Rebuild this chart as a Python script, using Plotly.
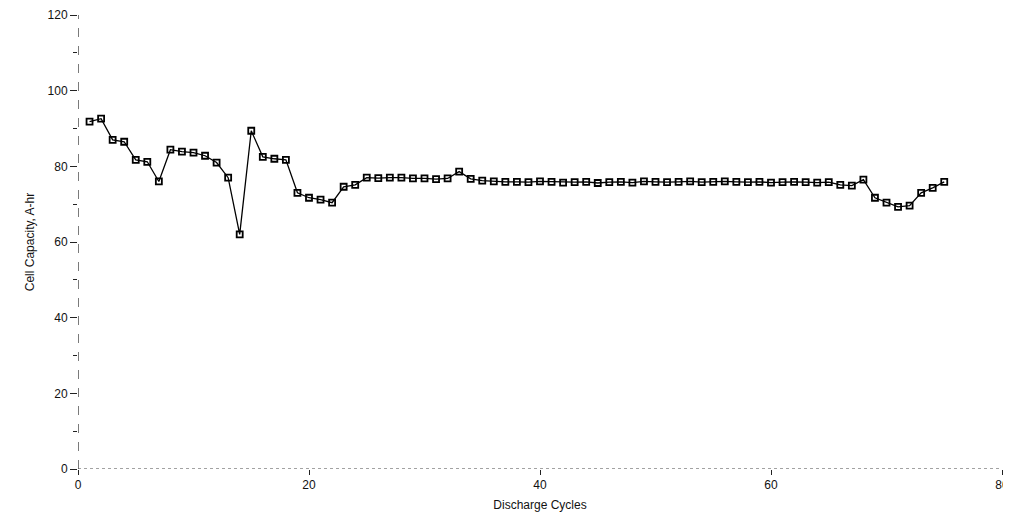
import plotly.graph_objects as go

cycles = list(range(1, 76))
capacity = [
    91.8, 92.6, 87.0, 86.5, 81.7, 81.2, 76.0, 84.4, 83.9, 83.6,
    82.8, 81.0, 77.0, 62.0, 89.4, 82.5, 82.0, 81.7, 73.0, 71.7,
    71.2, 70.4, 74.6, 75.1, 77.0, 76.9, 77.0, 77.0, 76.8, 76.8,
    76.6, 76.8, 78.6, 76.7, 76.2, 76.0, 75.9, 75.9, 75.8, 76.0,
    75.9, 75.7, 75.8, 75.9, 75.6, 75.8, 75.9, 75.7, 76.0, 75.9,
    75.8, 75.9, 76.0, 75.8, 75.9, 76.0, 75.9, 75.8, 75.9, 75.7,
    75.8, 75.9, 75.8, 75.7, 75.8, 75.1, 74.9, 76.5, 71.7, 70.4,
    69.3, 69.6, 73.0, 74.3, 75.9,
]
x_ticks = [0, 20, 40, 60, 80]
y_ticks = [0, 20, 40, 60, 80, 100, 120]

fig = go.Figure()
fig.add_trace(go.Scatter(
    x=cycles, y=capacity, mode="lines+markers",
    line=dict(color="black", width=1.3),
    marker=dict(symbol="square-open", size=6, color="black", line=dict(width=1.8)),
    showlegend=False, cliponaxis=False,
))

font = dict(family="Liberation Sans, Arial, sans-serif", size=12, color="#111")

fig.update_layout(
    width=1003, height=504,
    margin=dict(l=70, r=9, t=7, b=43),
    paper_bgcolor="white", plot_bgcolor="white",
    font=font,
    xaxis=dict(
        range=[0, 80], tickvals=x_ticks, showgrid=False, zeroline=False,
        showline=False, ticks="outside", ticklen=5, tickcolor="#222",
        title=dict(text="Discharge Cycles", font=font, standoff=12),
        automargin=False, fixedrange=True,
    ),
    yaxis=dict(
        range=[0, 120], tickvals=y_ticks, showgrid=False, zeroline=False,
        showline=False, ticks="outside", ticklen=7, tickcolor="#222",
        minor=dict(dtick=10, ticks="outside", ticklen=4, tickcolor="#222"),
        title=dict(text="Cell Capacity, A-hr", font=font, standoff=10),
        automargin=False, fixedrange=True,
    ),
)

# dashed axis lines (scanned look)
fig.add_shape(type="line", xref="x", yref="paper", x0=0, x1=0, y0=0, y1=1,
              line=dict(color="#222", width=1.2, dash="dash"))
fig.add_shape(type="line", xref="paper", yref="y", x0=0, x1=1, y0=0, y1=0,
              line=dict(color="#444", width=1, dash="dot"))

fig.write_html("out.html")
